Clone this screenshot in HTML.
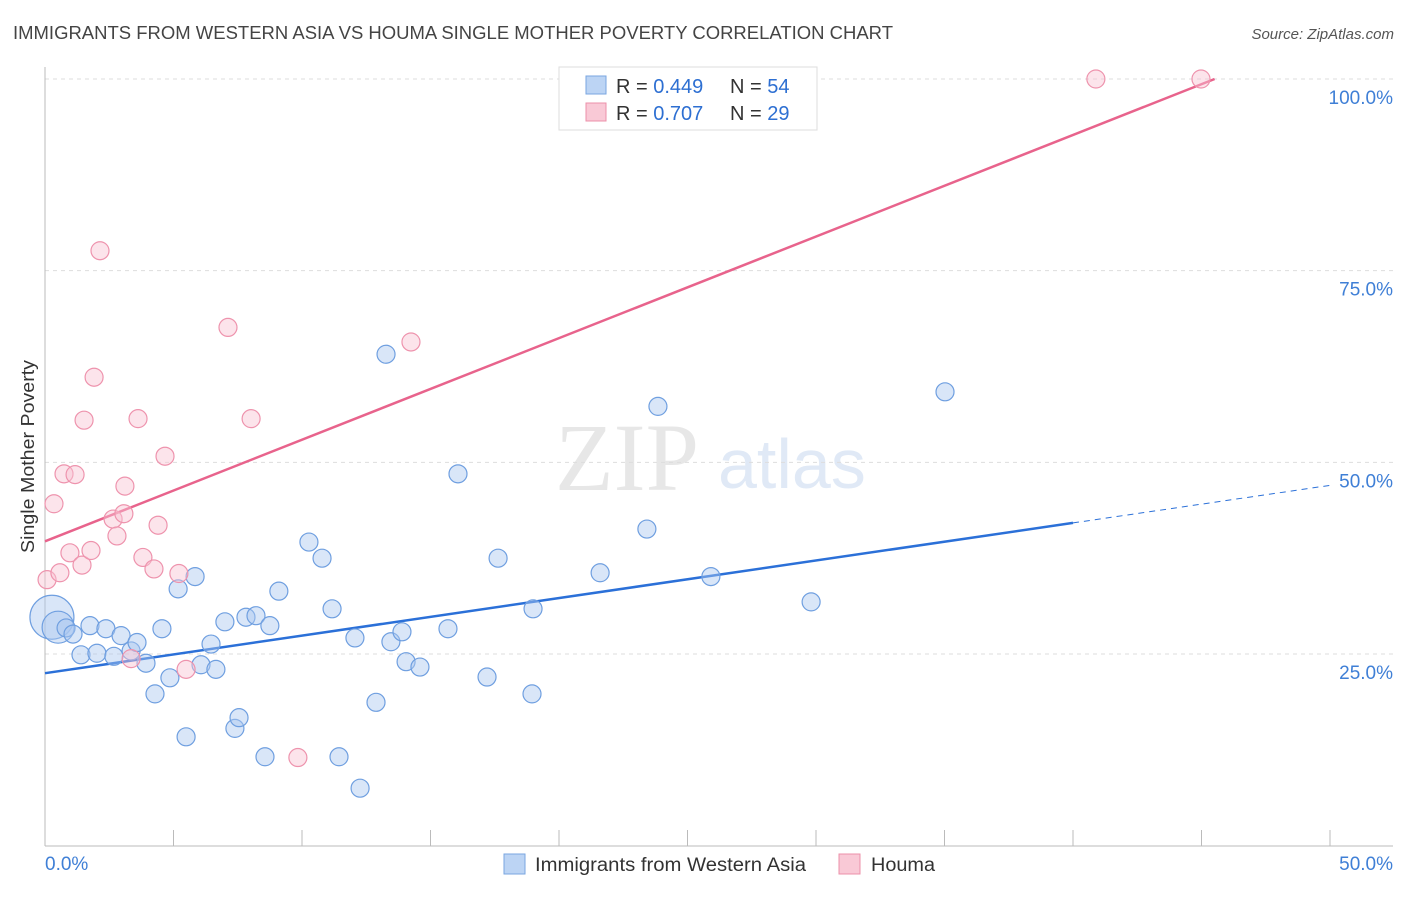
<!DOCTYPE html>
<html><head><meta charset="utf-8"><style>
body{margin:0;background:#fff;font-family:"Liberation Sans",sans-serif;}
</style></head><body>
<svg id="chart" width="1406" height="892" xmlns="http://www.w3.org/2000/svg" font-family="Liberation Sans, sans-serif">
<text x="13" y="39" font-size="18" fill="#444" textLength="880" lengthAdjust="spacingAndGlyphs">IMMIGRANTS FROM WESTERN ASIA VS HOUMA SINGLE MOTHER POVERTY CORRELATION CHART</text>
<text x="1394" y="39" font-size="15" fill="#555" text-anchor="end" font-style="italic">Source: ZipAtlas.com</text>
<text transform="translate(34,553) rotate(-90)" font-size="18" fill="#333" textLength="193" lengthAdjust="spacingAndGlyphs">Single Mother Poverty</text>
<g opacity="0.35">
<text x="555" y="490" font-size="96" font-family="Liberation Serif, serif" fill="#bbb">ZIP</text>
<text x="718" y="488" font-size="70" fill="#a9c3e6">atlas</text>
</g>
<g id="grid"></g><g id="axes"></g><g id="trend"></g><g id="pts"></g>
<g>
<rect x="559" y="67" width="258" height="63" fill="#fff" stroke="#ddd"/>
<rect x="586" y="76" width="20" height="18" fill="#bcd4f4" stroke="#7aa6e0"/>
<text x="616" y="93" font-size="20" fill="#333">R = <tspan fill="#2d6fd2">0.449</tspan></text>
<text x="730" y="93" font-size="20" fill="#333">N = <tspan fill="#2d6fd2">54</tspan></text>
<rect x="586" y="103" width="20" height="18" fill="#f9c9d6" stroke="#ec90aa"/>
<text x="616" y="120" font-size="20" fill="#333">R = <tspan fill="#2d6fd2">0.707</tspan></text>
<text x="730" y="120" font-size="20" fill="#333">N = <tspan fill="#2d6fd2">29</tspan></text>
</g>
<g>
<rect x="504" y="854" width="21" height="20" fill="#bcd4f4" stroke="#7aa6e0"/>
<text x="535" y="871" font-size="19" fill="#333" textLength="271" lengthAdjust="spacingAndGlyphs">Immigrants from Western Asia</text>
<rect x="839" y="854" width="21" height="20" fill="#f9c9d6" stroke="#ec90aa"/>
<text x="871" y="871" font-size="19" fill="#333" textLength="64" lengthAdjust="spacingAndGlyphs">Houma</text>
</g>
</svg>
<script>
const blueX=[0.27,0.51,0.82,1.09,1.75,1.40,2.02,2.37,2.68,2.96,3.35,3.58,3.93,4.28,4.55,4.86,5.18,5.49,5.84,6.07,6.46,6.65,7.00,7.39,7.55,7.82,8.21,8.56,8.75,9.10,10.27,10.78,11.17,11.44,12.06,12.26,12.88,13.27,13.46,13.89,14.05,14.59,15.68,16.07,17.20,17.63,18.99,18.95,21.60,23.42,23.85,25.91,29.81,35.02];
const blueY=[29.8,28.5,28.4,27.6,28.7,24.9,25.1,28.3,24.7,27.4,25.4,26.5,23.8,19.8,28.3,21.9,33.5,14.2,35.1,23.6,26.3,23.0,29.2,15.3,16.7,29.8,30.0,11.6,28.7,33.2,39.6,37.5,30.9,11.6,27.1,7.5,18.7,64.1,26.6,27.9,24.0,23.3,28.3,48.5,22.0,37.5,30.9,19.8,35.6,41.3,57.3,35.1,31.8,59.2];
const pinkX=[0.08,0.35,0.58,0.74,0.97,1.17,1.44,1.52,1.79,1.91,2.14,2.65,2.80,3.07,3.11,3.35,3.62,3.81,4.24,4.40,4.67,5.21,5.49,7.12,8.02,9.84,14.24,40.89,44.98];
const pinkY=[34.7,44.6,35.6,48.5,38.2,48.4,36.6,55.5,38.5,61.1,77.6,42.6,40.4,43.3,46.9,24.4,55.7,37.6,36.1,41.8,50.8,35.5,23.0,67.6,55.7,11.5,65.7,100,100];
const blueTrend=[22.5,0.49];const pinkTrend=[39.7,1.325];
const yTicks=[25,50,75,100];const xTickLabels=["0.0%","50.0%"];
const NS="http://www.w3.org/2000/svg";
const sx=v=>45+v*25.7, sy=v=>845.7-v*7.667;
function mk(p,t,a){const e=document.createElementNS(NS,t);for(const k in a)e.setAttribute(k,a[k]);document.getElementById(p).appendChild(e);return e;}
yTicks.forEach(t=>{
 const l=mk('grid','line',{x1:45,x2:1393,y1:sy(t),y2:sy(t),stroke:'#ddd','stroke-dasharray':'4,4'});
 
 
 const tx=mk('grid','text',{x:1393,y:sy(t)+25,'font-size':19,fill:'#3f7fd6','text-anchor':'end'});tx.textContent=t.toFixed(1)+'%';
 
 
});
mk('axes','line',{x1:45,x2:45,y1:67,y2:846,stroke:'#bbb'});
mk('axes','line',{x1:45,x2:1393,y1:846,y2:846,stroke:'#bbb'});
for(let i=1;i<=10;i++){mk('axes','line',{x1:sx(i*5),x2:sx(i*5),y1:830,y2:846,stroke:'#bbb'});}
const xl0=mk('axes','text',{x:45,y:870,'font-size':19,fill:'#3f7fd6'});xl0.textContent=xTickLabels[0];


const xl1=mk('axes','text',{x:1393,y:870,'font-size':19,fill:'#3f7fd6','text-anchor':'end'});xl1.textContent=xTickLabels[1];


const b1=mk('trend','line',{x1:sx(0),y1:sy(blueTrend[0]),x2:sx(40),y2:sy(blueTrend[0]+40*blueTrend[1]),stroke:'#2b70d8','stroke-width':2.5});


const b2=mk('trend','line',{x1:sx(40),y1:sy(blueTrend[0]+40*blueTrend[1]),x2:sx(50),y2:sy(blueTrend[0]+50*blueTrend[1]),stroke:'#2b70d8','stroke-width':1,'stroke-dasharray':'6,5'});


const pe=(100-pinkTrend[0])/pinkTrend[1];
const p1=mk('trend','line',{x1:sx(0),y1:sy(pinkTrend[0]),x2:sx(pe),y2:sy(100),stroke:'#e8638c','stroke-width':2.5});


blueX.forEach((x,i)=>{
 const r=i===0?22:(i===1?16:9);
 const c=mk('pts','circle',{cx:sx(x),cy:sy(blueY[i]),r:r,fill:'rgba(170,200,240,0.45)',stroke:'#6f9fe0','stroke-width':1.2});
 
 
});
pinkX.forEach((x,i)=>{
 const c=mk('pts','circle',{cx:sx(x),cy:sy(pinkY[i]),r:9,fill:'rgba(248,195,210,0.45)',stroke:'#ee93ad','stroke-width':1.2});
 
 
});
</script>
</body></html>
